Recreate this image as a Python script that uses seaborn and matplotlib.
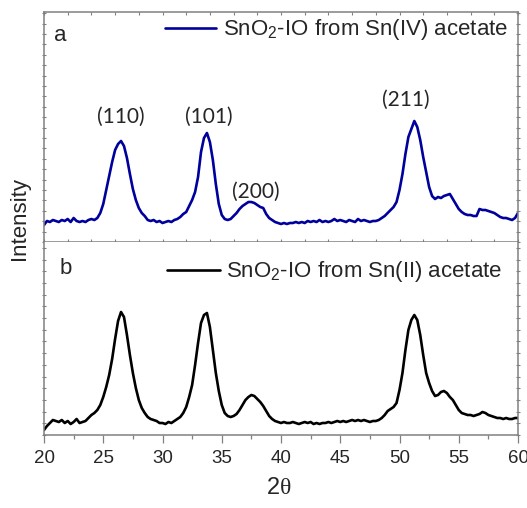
import numpy as np
import pandas as pd
import matplotlib
matplotlib.use('Agg')
import matplotlib.pyplot as plt
import seaborn as sns
from matplotlib.ticker import MultipleLocator, NullFormatter

# scan angles (2theta, step 0.25 deg)
two_theta = np.linspace(20, 60, 161)

# Sn(IV) acetate pattern (arb. units)
sn4 = [17, 21, 20, 22, 21, 20, 22, 21, 23, 20, 24, 21, 20, 21, 20, 22,
       23, 22, 24, 29, 38, 52, 66, 80, 92, 98, 101, 96, 84, 68, 53, 42,
       34, 29, 26, 22, 21, 22, 20, 21, 19, 20, 21, 20, 22, 23, 25, 28,
       30, 36, 42, 50, 65, 90, 104, 109, 100, 82, 58, 38, 27, 23, 22, 23,
       26, 29, 33, 36, 38, 40, 40, 39, 37, 35, 34, 28, 24, 22, 20, 19,
       18, 19, 18, 19, 19, 20, 19, 20, 19, 21, 20, 21, 20, 22, 20, 21,
       20, 21, 23, 21, 22, 21, 20, 22, 21, 20, 23, 21, 22, 21, 20, 21,
       21, 22, 24, 26, 29, 32, 35, 40, 52, 68, 88, 105, 113, 121, 115, 102,
       85, 70, 55, 46, 43, 45, 44, 46, 47, 48, 43, 38, 33, 30, 28, 27,
       27, 26, 26, 33, 32, 32, 31, 30, 29, 27, 25, 24, 24, 23, 22, 24,
       29]

# Sn(II) acetate pattern
sn2 = [5, 9, 12, 15, 14, 13, 15, 12, 14, 11, 13, 16, 12, 13, 14, 17,
       20, 22, 25, 30, 38, 48, 60, 76, 96, 114, 123, 118, 100, 80, 62, 47,
       35, 27, 22, 18, 16, 15, 14, 12, 12, 11, 13, 12, 14, 16, 18, 22,
       28, 38, 50, 70, 92, 112, 120, 122, 108, 85, 62, 44, 30, 22, 19, 18,
       19, 21, 25, 30, 35, 38, 40, 39, 36, 33, 29, 24, 19, 16, 14, 13,
       12, 13, 12, 12, 13, 12, 11, 12, 13, 12, 13, 11, 12, 11, 12, 12,
       13, 12, 13, 14, 13, 14, 13, 14, 15, 14, 15, 14, 15, 14, 13, 14,
       14, 15, 17, 20, 24, 26, 28, 32, 45, 62, 85, 105, 115, 120, 115, 100,
       80, 62, 52, 44, 39, 40, 43, 44, 42, 38, 35, 30, 25, 22, 21, 20,
       20, 19, 20, 21, 23, 22, 20, 19, 18, 17, 17, 16, 17, 16, 16, 17,
       17]

peak_names = ['(110)', '(101)', '(200)', '(211)']
peak_pos = [26.5, 33.9, 37.9, 50.55]
peak_lab_y = [125, 125, 50, 142]

df = pd.DataFrame({'two_theta': two_theta, 'sn4': sn4, 'sn2': sn2})

sns.set_theme(style='white')
plt.rcParams['font.family'] = ['Liberation Sans', 'DejaVu Sans']
plt.rcParams['mathtext.fontset'] = 'custom'
plt.rcParams['mathtext.rm'] = 'Liberation Sans'

spine_col = '#808080'

fig = plt.figure(figsize=(5.27, 5.08), dpi=100)
ax1 = fig.add_axes([44/527, 1-242/508, 474/527, 230/508])
ax2 = fig.add_axes([44/527, 1-435/508, 474/527, 193/508])

sns.lineplot(data=df, x='two_theta', y='sn4', ax=ax1, color='#00009c', lw=1.9,
             label=r'SnO$_\mathrm{2}$-IO from Sn(IV) acetate')
sns.lineplot(data=df, x='two_theta', y='sn2', ax=ax2, color='black', lw=1.9,
             label=r'SnO$_\mathrm{2}$-IO from Sn(II) acetate')

ax1.set_xlim(20, 60)
ax1.set_ylim(0, 230)
ax2.set_xlim(20, 60)
ax2.set_ylim(0, 193)

for ax in [ax1, ax2]:
    for s in ax.spines.values():
        s.set_color(spine_col)
        s.set_linewidth(1.1)
    ax.set_ylabel('')
    ax.set_xlabel('')
    ax.yaxis.set_major_locator(MultipleLocator(10.4 if ax is ax1 else 11.7))
    ax.yaxis.set_major_formatter(NullFormatter())
    ax.tick_params(axis='y', which='both', direction='inout', length=3, width=0.8,
                   color=spine_col, left=True, right=True)

# top panel: small inner ticks every 2 deg, no labels
ax1.xaxis.set_major_locator(MultipleLocator(2))
ax1.xaxis.set_major_formatter(NullFormatter())
ax1.tick_params(axis='x', direction='in', length=2, width=0.8, color=spine_col,
                top=True, bottom=True)

# bottom panel
ax2.xaxis.set_major_locator(MultipleLocator(5))
ax2.xaxis.set_minor_locator(MultipleLocator(2.5))
ax2.tick_params(axis='x', which='major', direction='out', length=6, width=0.9,
                color=spine_col, labelsize=13.5, pad=5, bottom=True, top=False)
ax2.tick_params(axis='x', which='minor', direction='out', length=3, width=0.9,
                color=spine_col, bottom=True, top=False)
ax2.spines['top'].set_visible(False)

ax1.legend(loc='center right', bbox_to_anchor=(0.979, 0.922), frameon=False,
           fontsize=16, handlelength=2.3, handletextpad=0.3, borderpad=0,
           borderaxespad=0)
ax2.legend(loc='center right', bbox_to_anchor=(0.966, 0.845), frameon=False,
           fontsize=16, handlelength=2.4, handletextpad=0.25, borderpad=0,
           borderaxespad=0)

for name, px, py in zip(peak_names, peak_pos, peak_lab_y):
    ax1.text(px, py, name, ha='center', va='center', fontsize=15,
             family=['Lato', 'DejaVu Sans'])

ax1.text(21.35, 207, 'a', ha='center', va='center', fontsize=16)
ax2.text(21.8, 166, 'b', ha='center', va='center', fontsize=16)

# x label: sans "2" followed by a serif theta
ax2.text(0.497, -0.275, '2', transform=ax2.transAxes, ha='right', va='center',
         fontsize=17)
ax2.text(0.497, -0.275, '\u03b8', transform=ax2.transAxes, ha='left', va='center',
         fontsize=17, family=['Liberation Serif', 'DejaVu Serif'])
fig.text(20/527, 1-218/508, 'Intensity', rotation=90, ha='center', va='center',
         fontsize=16)

fig.savefig('out.png', dpi=100)
